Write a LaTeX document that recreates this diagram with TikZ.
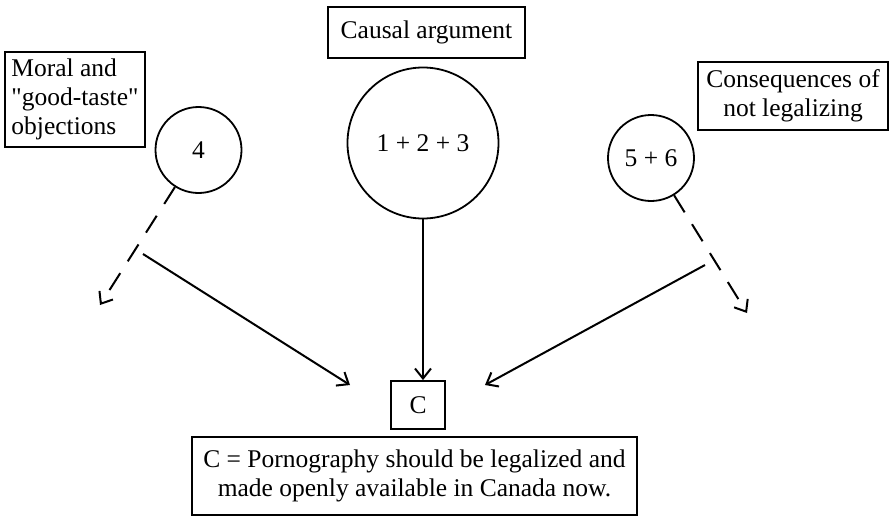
\documentclass[tikz,border=0pt]{standalone}
\usepackage{fontspec}
\setmainfont{Liberation Serif}[Ligatures=TeXOff]
\usetikzlibrary{arrows.meta}
\begin{document}
\begin{tikzpicture}[x=1pt,y=-1pt,
  txt/.style={font=\fontsize{25.5}{29}\selectfont},
  labelbox/.style={draw,line width=1.8pt,txt,inner sep=0pt},
  circ/.style={draw,circle,line width=1.8pt,txt,inner sep=0pt},
  conn/.style={line width=2pt,-{Straight Barb[length=10pt,width=16pt,line width=2pt]}},
  dashconn/.style={conn,dash pattern=on 20pt off 14pt}]
\useasboundingbox (0,0) rectangle (889,515);
% boxes
\node[labelbox,minimum width=140pt,minimum height=95pt,align=left] (moral) at (75,99.5)
  {Moral and\\"good-taste"\\objections};
\node[labelbox,minimum width=197pt,minimum height=51pt] (causal) at (426.5,32.5) {Causal argument};
\node[labelbox,minimum width=190pt,minimum height=68pt,align=center] (cons) at (793,96)
  {Consequences of\\not legalizing};
% circles
\node[circ,minimum size=86pt] (c4) at (198.5,150) {4};
\node[circ,minimum size=151pt] (c123) at (423,143) {1 + 2 + 3};
\node[circ,minimum size=86pt] (c56) at (651,158) {5 + 6};
% conclusion
\node[labelbox,minimum width=54pt,minimum height=48pt] (C) at (418,405) {C};
\node[labelbox,minimum width=445pt,minimum height=78pt,align=center] (stmt) at (414.5,476)
  {C = Pornography should be legalized and\\made openly available in Canada now.};
% coordinates
\coordinate (d4) at (100,305);
\coordinate (b4) at (143,254);
\coordinate (t4) at (350,385);
\coordinate (d56) at (747,313);
\coordinate (b56) at (705,265);
\coordinate (t56) at (485,385);
% connectors
\draw[dashconn] (c4) -- (d4);
\draw[conn] (b4) -- (t4);
\draw[conn] (c123.south) -- (c123.south |- C.north);
\draw[dashconn] (c56) -- (d56);
\draw[conn] (b56) -- (t56);
\end{tikzpicture}
\end{document}
